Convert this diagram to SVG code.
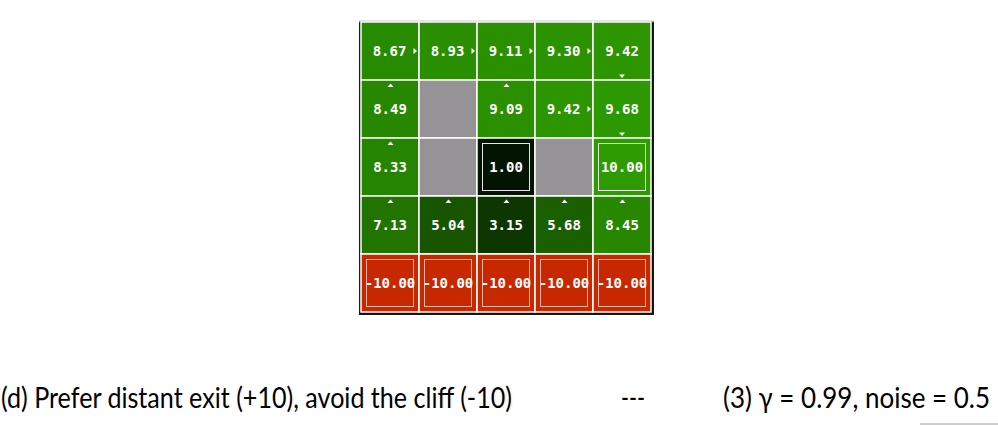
<svg xmlns="http://www.w3.org/2000/svg" width="998" height="425" viewBox="0 0 998 425">
<defs>
<style>
.cell{stroke:#ffffff;stroke-width:1.5}
.wall{fill:#959395}
.val{font-family:"DejaVu Sans Mono","Liberation Mono",monospace;font-weight:bold;font-size:14px;fill:#ffffff;text-anchor:middle}
.arr{fill:#ffffff}
.term{fill:none;stroke:#e6e6e6;stroke-width:1}
.termr{fill:none;stroke:#f2b4a6;stroke-width:1}
.cap{font-family:Lato,"Open Sans","Liberation Sans",sans-serif;font-size:28px;fill:#000000}
</style>
</defs>
<rect width="998" height="425" fill="#ffffff"/>
<g id="frame">
<rect x="359.5" y="21.5" width="294" height="293" fill="#111111" stroke="#1a1a1a" stroke-width="1"/>
<line x1="359" y1="21.5" x2="654" y2="21.5" stroke="#9a9a9a" stroke-width="1.5"/>
</g>
<g id="row0">
<g id="c00"><rect class="cell" x="361" y="22" width="58" height="58" fill="#278b00"/><text class="val" x="389.5" y="56">8.67</text><path class="arr" d="M413.5 48L417 51L413.5 54Z"/></g>
<g id="c01"><rect class="cell" x="419" y="22" width="58" height="58" fill="#298e00"/><text class="val" x="447.5" y="56">8.93</text><path class="arr" d="M471.5 48L475 51L471.5 54Z"/></g>
<g id="c02"><rect class="cell" x="477" y="22" width="58" height="58" fill="#2a9000"/><text class="val" x="505.5" y="56">9.11</text><path class="arr" d="M529.5 48L533 51L529.5 54Z"/></g>
<g id="c03"><rect class="cell" x="535" y="22" width="58" height="58" fill="#2b9300"/><text class="val" x="563.5" y="56">9.30</text><path class="arr" d="M587.5 48L591 51L587.5 54Z"/></g>
<g id="c04"><rect class="cell" x="593" y="22" width="58" height="58" fill="#2c9500"/><text class="val" x="622" y="56">9.42</text><path class="arr" d="M619 74.5L625 74.5L622 78Z"/></g>
</g>
<g id="row1">
<g id="c10"><rect class="cell" x="361" y="80" width="58" height="58" fill="#278800"/><text class="val" x="390" y="114">8.49</text><path class="arr" d="M387.5 87L390.5 83.5L393.5 87Z"/></g>
<g id="c11"><rect class="cell wall" x="419" y="80" width="58" height="58"/></g>
<g id="c12"><rect class="cell" x="477" y="80" width="58" height="58" fill="#2a9000"/><text class="val" x="506" y="114">9.09</text><path class="arr" d="M503.5 87L506.5 83.5L509.5 87Z"/></g>
<g id="c13"><rect class="cell" x="535" y="80" width="58" height="58" fill="#2c9500"/><text class="val" x="563.5" y="114">9.42</text><path class="arr" d="M587.5 106L591 109L587.5 112Z"/></g>
<g id="c14"><rect class="cell" x="593" y="80" width="58" height="58" fill="#2d9900"/><text class="val" x="622" y="114">9.68</text><path class="arr" d="M619 132.5L625 132.5L622 136Z"/></g>
</g>
<g id="row2">
<g id="c20"><rect class="cell" x="361" y="138" width="58" height="58" fill="#268500"/><text class="val" x="390" y="172">8.33</text><path class="arr" d="M387.5 145L390.5 141.5L393.5 145Z"/></g>
<g id="c21"><rect class="cell wall" x="419" y="138" width="58" height="58"/></g>
<g id="c22"><rect class="cell" x="477" y="138" width="58" height="58" fill="#031403"/><rect class="term" x="482.5" y="143.5" width="47" height="47"/><text class="val" x="506" y="172">1.00</text></g>
<g id="c23"><rect class="cell wall" x="535" y="138" width="58" height="58"/></g>
<g id="c24"><rect class="cell" x="593" y="138" width="58" height="58" fill="#2e9c00"/><rect class="term" x="598.5" y="143.5" width="47" height="47"/><text class="val" x="622" y="172">10.00</text></g>
</g>
<g id="row3">
<g id="c30"><rect class="cell" x="361" y="196" width="58" height="58" fill="#217400"/><text class="val" x="390" y="230">7.13</text><path class="arr" d="M387.5 203L390.5 199.5L393.5 203Z"/></g>
<g id="c31"><rect class="cell" x="419" y="196" width="58" height="58" fill="#175500"/><text class="val" x="448" y="230">5.04</text><path class="arr" d="M445.5 203L448.5 199.5L451.5 203Z"/></g>
<g id="c32"><rect class="cell" x="477" y="196" width="58" height="58" fill="#0c3800"/><text class="val" x="506" y="230">3.15</text><path class="arr" d="M503.5 203L506.5 199.5L509.5 203Z"/></g>
<g id="c33"><rect class="cell" x="535" y="196" width="58" height="58" fill="#1a6000"/><text class="val" x="564" y="230">5.68</text><path class="arr" d="M561.5 203L564.5 199.5L567.5 203Z"/></g>
<g id="c34"><rect class="cell" x="593" y="196" width="58" height="58" fill="#278800"/><text class="val" x="622" y="230">8.45</text><path class="arr" d="M619.5 203L622.5 199.5L625.5 203Z"/></g>
</g>
<g id="row4">
<g id="c40"><rect class="cell" x="361" y="254" width="58" height="58" fill="#c82800"/><rect class="termr" x="366.5" y="259.5" width="47" height="47"/><text class="val" x="390" y="288">-10.00</text></g>
<g id="c41"><rect class="cell" x="419" y="254" width="58" height="58" fill="#c82800"/><rect class="termr" x="424.5" y="259.5" width="47" height="47"/><text class="val" x="448" y="288">-10.00</text></g>
<g id="c42"><rect class="cell" x="477" y="254" width="58" height="58" fill="#c82800"/><rect class="termr" x="482.5" y="259.5" width="47" height="47"/><text class="val" x="506" y="288">-10.00</text></g>
<g id="c43"><rect class="cell" x="535" y="254" width="58" height="58" fill="#c82800"/><rect class="termr" x="540.5" y="259.5" width="47" height="47"/><text class="val" x="564" y="288">-10.00</text></g>
<g id="c44"><rect class="cell" x="593" y="254" width="58" height="58" fill="#c82800"/><rect class="termr" x="598.5" y="259.5" width="47" height="47"/><text class="val" x="622" y="288">-10.00</text></g>
</g>
<g id="connectors"></g>
<g id="caption">
<text class="cap" x="1" y="408" textLength="511" lengthAdjust="spacingAndGlyphs">(d) Prefer distant exit (+10), avoid the cliff (-10)</text>
<text class="cap" x="621" y="408" textLength="24" lengthAdjust="spacingAndGlyphs">---</text>
<text class="cap" x="723" y="408" textLength="267" lengthAdjust="spacingAndGlyphs">(3) γ = 0.99, noise = 0.5</text>
<line x1="920" y1="424" x2="998" y2="424" stroke="#9a9a9a" stroke-width="1"/>
</g>
</svg>
